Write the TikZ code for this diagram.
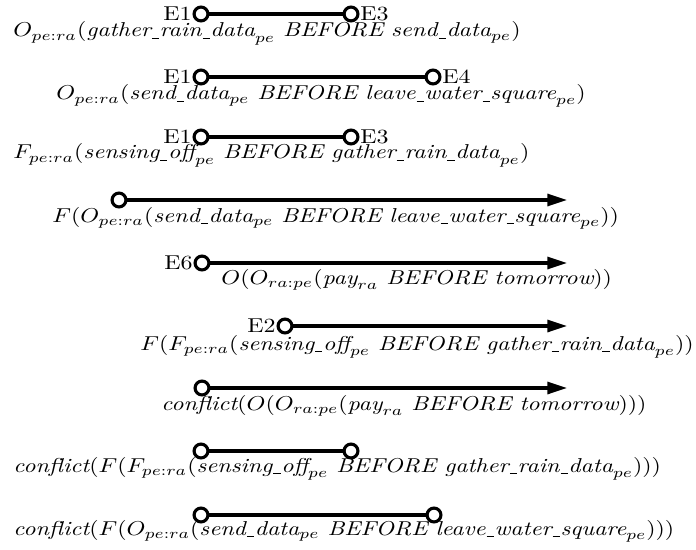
\documentclass[tikz,border=0pt]{standalone}
\usepackage{fontspec}
\usetikzlibrary{arrows.meta}
\newcommand\w[1]{\textit{#1}}
\newcommand\us{\kern0.04em\rule[-0.22ex]{0.3em}{0.42pt}\kern0.03em}
\newcommand\sq[1]{\scalebox{1}[0.84]{#1}}
\begin{document}
\begin{tikzpicture}[x=0.418pt,y=-0.418pt,
  circ/.style={circle,draw,line width=1.3pt,minimum size=5.8pt,inner sep=0pt},
  bar/.style={line width=1.3pt},
  arr/.style={line width=1.3pt,-{Triangle[length=8.2pt,width=5pt]}},
  lbl/.style={inner sep=0.2pt},
  txt/.style={anchor=base west,inner sep=0pt}]
\useasboundingbox (0,0) rectangle (696,550);
% row 1
\node[txt] (t1) at (13,37) {\sq{$O_{pe:ra}(\w{gather\us rain\us data}_{pe}\ \w{BEFORE}\ \w{send\us data}_{pe})$}};
\node[circ] (a1) at (201,14) {};
\node[circ] (b1) at (351,14) {};
\draw[bar] (a1) -- (b1);
\node[lbl,anchor=east] at (a1.west) {\sq{E1}};
\node[lbl,anchor=west] at (b1.east) {\sq{E3}};
% row 2
\node[txt] (t2) at (56,100) {\sq{$O_{pe:ra}(\w{send\us data}_{pe}\ \w{BEFORE}\ \w{leave\us water\us square}_{pe})$}};
\node[circ] (a2) at (201,77) {};
\node[circ] (b2) at (433,77) {};
\draw[bar] (a2) -- (b2);
\node[lbl,anchor=east] at (a2.west) {\sq{E1}};
\node[lbl,anchor=west] at (b2.east) {\sq{E4}};
% row 3
\node[txt] (t3) at (13,159) {\sq{$F_{pe:ra}(\w{sensing\us off}_{pe}\ \w{BEFORE}\ \w{gather\us rain\us data}_{pe})$}};
\node[circ] (a3) at (201,137) {};
\node[circ] (b3) at (351,137) {};
\draw[bar] (a3) -- (b3);
\node[lbl,anchor=east] at (a3.west) {\sq{E1}};
\node[lbl,anchor=west] at (b3.east) {\sq{E3}};
% row 4
\node[txt] (t4) at (52,222) {\sq{$F(O_{pe:ra}(\w{send\us data}_{pe}\ \w{BEFORE}\ \w{leave\us water\us square}_{pe}))$}};
\node[circ] (a4) at (119,200) {};
\coordinate (e4) at (567,200);
\draw[arr] (a4) -- (e4);
% row 5
\node[txt] (t5) at (221,284) {\sq{$O(O_{ra:pe}(\w{pay}_{ra}\ \w{BEFORE}\ \w{tomorrow}))$}};
\node[circ] (a5) at (202,263) {};
\coordinate (e5) at (567,263);
\draw[arr] (a5) -- (e5);
\node[lbl,anchor=east] at (a5.west) {\sq{E6}};
% row 6
\node[txt] (t6) at (140,350) {\sq{$F(F_{pe:ra}(\w{sensing\us off}_{pe}\ \w{BEFORE}\ \w{gather\us rain\us data}_{pe}))$}};
\node[circ] (a6) at (285,326) {};
\coordinate (e6) at (567,326);
\draw[arr] (a6) -- (e6);
\node[lbl,anchor=east] at (a6.west) {\sq{E2}};
% row 7
\node[txt] (t7) at (161,410) {\sq{$\w{conflict}(O(O_{ra:pe}(\w{pay}_{ra}\ \w{BEFORE}\ \w{tomorrow})))$}};
\node[circ] (a7) at (202,388) {};
\coordinate (e7) at (567,388);
\draw[arr] (a7) -- (e7);
% row 8
\node[txt] (t8) at (13,472) {\sq{$\w{conflict}(F(F_{pe:ra}(\w{sensing\us off}_{pe}\ \w{BEFORE}\ \w{gather\us rain\us data}_{pe})))$}};
\node[circ] (a8) at (201,451) {};
\node[circ] (b8) at (351,451) {};
\draw[bar] (a8) -- (b8);
% row 9
\node[txt] (t9) at (13,535) {\sq{$\w{conflict}(F(O_{pe:ra}(\w{send\us data}_{pe}\ \w{BEFORE}\ \w{leave\us water\us square}_{pe})))$}};
\node[circ] (a9) at (201,515) {};
\node[circ] (b9) at (434,515) {};
\draw[bar] (a9) -- (b9);
\end{tikzpicture}
\end{document}
